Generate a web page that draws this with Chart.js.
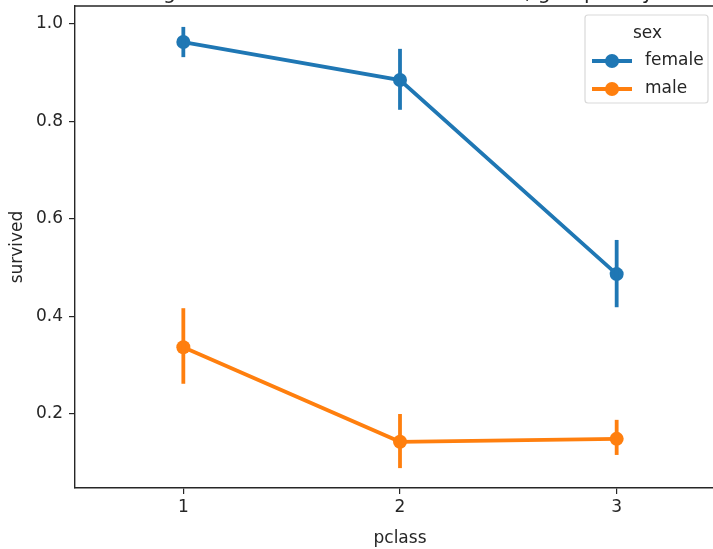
<!DOCTYPE html>
<html>
<head>
<meta charset="utf-8">
<script src="https://cdn.jsdelivr.net/npm/chart.js@4/dist/chart.umd.min.js"></script>
<style>
  html, body { margin: 0; padding: 0; background: #fff; overflow: hidden; }
  #frame { position: relative; width: 713px; height: 549px; overflow: hidden; }
  #plot { position: absolute; left: 0; top: -30px; }
</style>
</head>
<body>
<div id="frame"><canvas id="plot" width="760" height="579"></canvas></div>
<script>
// Passenger class categories
const pclassLabels = ['1', '2', '3'];
const seriesNames = ['female', 'male'];

// Mean survival per class, with 95% confidence interval bounds
const femaleMean = [0.963, 0.885, 0.487];
const femaleLow  = [0.932, 0.824, 0.419];
const femaleHigh = [0.994, 0.949, 0.557];

const maleMean = [0.337, 0.143, 0.149];
const maleLow  = [0.262, 0.089, 0.116];
const maleHigh = [0.417, 0.200, 0.188];

const yTickValues = [0.2, 0.4, 0.6, 0.8, 1.0];

const chartTitle = 'Average survival rate of each ticket class, grouped by sex';
const legendTitle = 'sex';

const BLUE = '#1f77b4';
const ORANGE = '#ff7f0e';
const INK = '#262626';
const FONT = "'DejaVu Sans', sans-serif";
const FS = 17;

const intervals = [
  { low: femaleLow, high: femaleHigh },
  { low: maleLow, high: maleHigh }
];

// Vertical confidence-interval bars through each point
const errorBars = {
  id: 'errorBars',
  afterDatasetsDraw(chart) {
    const { ctx, scales: { x, y } } = chart;
    ctx.save();
    chart.data.datasets.forEach((ds, i) => {
      ctx.strokeStyle = ds.borderColor;
      ctx.lineWidth = 3.8;
      ctx.lineCap = 'butt';
      intervals[i].low.forEach((lo, j) => {
        const px = x.getPixelForValue(j);
        ctx.beginPath();
        ctx.moveTo(px, y.getPixelForValue(lo));
        ctx.lineTo(px, y.getPixelForValue(intervals[i].high[j]));
        ctx.stroke();
      });
    });
    ctx.restore();
  }
};

// Top spine and title above the axes
const frameAndTitle = {
  id: 'frameAndTitle',
  afterDraw(chart) {
    const { ctx, chartArea: a } = chart;
    ctx.save();
    ctx.strokeStyle = INK;
    ctx.lineWidth = 1.4;
    ctx.beginPath();
    ctx.moveTo(a.left, a.top);
    ctx.lineTo(a.right, a.top);
    ctx.lineTo(a.right, a.bottom);
    ctx.stroke();
    ctx.fillStyle = INK;
    ctx.font = `20.4px ${FONT}`;
    ctx.textAlign = 'center';
    ctx.textBaseline = 'alphabetic';
    ctx.fillText(chartTitle, (a.left + a.right) / 2, a.top - 7);
    ctx.restore();
  }
};

// Legend box in the upper right of the axes
const seriesLegend = {
  id: 'seriesLegend',
  afterDraw(chart) {
    const { ctx, chartArea: a } = chart;
    const right = a.right - 17;
    const left = 585;
    const top = a.top + 9;
    const h = 88;
    ctx.save();
    ctx.fillStyle = 'rgba(255,255,255,0.8)';
    ctx.strokeStyle = '#d9d9d9';
    ctx.lineWidth = 1.2;
    ctx.beginPath();
    ctx.roundRect(left, top, right - left, h, 3);
    ctx.fill();
    ctx.stroke();

    ctx.fillStyle = INK;
    ctx.font = `${FS}px ${FONT}`;
    ctx.textBaseline = 'middle';
    ctx.textAlign = 'center';
    ctx.fillText(legendTitle, (left + right) / 2 + 1, top + 19);

    chart.data.datasets.forEach((ds, i) => {
      const cy = top + 46 + i * 28;
      ctx.strokeStyle = ds.borderColor;
      ctx.lineWidth = 3.8;
      ctx.beginPath();
      ctx.moveTo(left + 7, cy);
      ctx.lineTo(left + 47, cy);
      ctx.stroke();
      ctx.fillStyle = ds.borderColor;
      ctx.beginPath();
      ctx.arc(left + 27, cy, 7, 0, Math.PI * 2);
      ctx.fill();
      ctx.fillStyle = INK;
      ctx.textAlign = 'left';
      ctx.fillText(ds.label, left + 60, cy);
    });
    ctx.restore();
  }
};

const tickFont = { family: FONT, size: FS };

new Chart(document.getElementById('plot'), {
  type: 'line',
  data: {
    labels: pclassLabels,
    datasets: [
      { label: seriesNames[0], data: femaleMean, borderColor: BLUE, backgroundColor: BLUE,
        pointBackgroundColor: BLUE, pointBorderColor: BLUE },
      { label: seriesNames[1], data: maleMean, borderColor: ORANGE, backgroundColor: ORANGE,
        pointBackgroundColor: ORANGE, pointBorderColor: ORANGE }
    ].map(d => Object.assign(d, {
      borderWidth: 3.8, pointRadius: 7, pointHoverRadius: 7, pointBorderWidth: 0,
      fill: false, tension: 0
    }))
  },
  options: {
    responsive: false,
    animation: false,
    events: [],
    layout: { padding: { top: 36, right: 35, left: 0, bottom: 0 } },
    plugins: { legend: { display: false }, tooltip: { enabled: false }, title: { display: false } },
    scales: {
      x: {
        type: 'category',
        offset: true,
        grid: { drawOnChartArea: false, drawTicks: true, tickLength: 6, color: INK, lineWidth: 1.2, offset: false },
        border: { display: true, color: INK, width: 1.4 },
        ticks: { color: INK, font: tickFont, padding: 3, maxRotation: 0 },
        title: { display: true, text: 'pclass', color: INK, font: tickFont, padding: { top: 0, bottom: 0 } },
        afterFit(s) { s.height = 61; }
      },
      y: {
        min: 0.0482,
        max: 1.0369,
        afterBuildTicks(s) { s.ticks = yTickValues.map(v => ({ value: v })); },
        grid: { drawOnChartArea: false, drawTicks: true, tickLength: 6, color: INK, lineWidth: 1.2 },
        border: { display: true, color: INK, width: 1.4 },
        ticks: { color: INK, font: tickFont, padding: 6, callback: v => Number(v).toFixed(1) },
        title: { display: true, text: 'survived', color: INK, font: tickFont, padding: { top: 7, bottom: 0 } },
        afterFit(s) { s.width = 75; }
      }
    }
  },
  plugins: [errorBars, frameAndTitle, seriesLegend]
});
</script>
</body>
</html>
